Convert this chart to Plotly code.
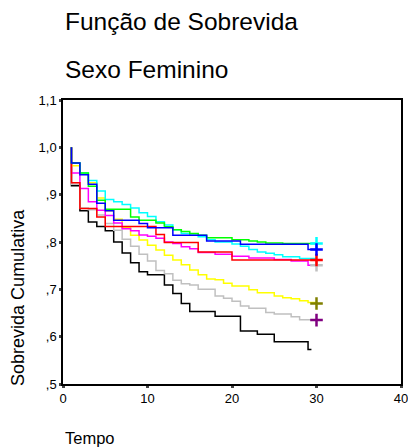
import plotly.graph_objects as go

# ---- data ----
times = list(range(1, 31))

black = [.919, .866, .842, .833, .824, .800, .777, .756, .737, .731,
         .731, .709, .691, .670, .653, .653, .653, .643, .643, .643,
         .612, .612, .605, .605, .589, .589, .589, .589, .573]
black_end = 29.4

gray = [.922, .872, .868, .857, .839, .825, .806, .791, .774, .760,
        .740, .733, .719, .712, .709, .700, .700, .686, .681, .675,
        .665, .660, .660, .651, .648, .648, .642, .636, .636, .635]

yellow = [.961, .943, .925, .893, .866, .848, .830, .814, .804, .793,
          .783, .772, .762, .752, .741, .731, .722, .720, .713, .707,
          .707, .699, .693, .693, .686, .682, .680, .676, .672, .670]

magenta = [.946, .913, .885, .867, .856, .840, .828, .824, .815, .812,
           .808, .800, .797, .790, .786, .778, .778, .774, .774, .770,
           .770, .766, .766, .766, .763, .763, .760, .760, .751, .751]

red = [.925, .871, .871, .853, .833, .833, .833, .833, .833, .833,
       .816, .799, .799, .799, .799, .779, .779, .779, .779, .762,
       .762, .762, .762, .762, .762, .762, .762, .762, .762, .762]

cyan = [.967, .946, .930, .908, .890, .885, .879, .872, .862, .854,
        .843, .836, .826, .818, .814, .811, .805, .800, .800, .796,
        .791, .784, .779, .776, .773, .769, .769, .765, .765, .765]

green = [.967, .946, .918, .888, .869, .869, .869, .853, .846, .846,
         .840, .832, .826, .822, .818, .814, .809, .809, .809, .805,
         .805, .802, .800, .798, .798, .797, .797, .797, .797, .797]

blue = [.967, .942, .922, .882, .866, .846, .846, .846, .839, .830,
        .830, .830, .814, .814, .814, .814, .802, .802, .802, .802,
        .795, .795, .795, .795, .795, .795, .795, .795, .784, .784]

y_tickvals = [0.5, 0.6, 0.7, 0.8, 0.9, 1.0, 1.1]
y_ticktext = [",5", ",6", ",7", ",8", ",9", "1,0", "1,1"]
x_tickvals = [0, 10, 20, 30, 40]

# (name, values, line colour, censor-marker colour, end time)
series = [
    ("black", black, "#000000", None, black_end),
    ("gray", gray, "#c0c0c0", "#800080", 30),
    ("yellow", yellow, "#ffff00", "#808000", 30),
    ("magenta", magenta, "#ff00ff", "#c0c0c0", 30),
    ("cyan", cyan, "#00ffff", None, 30),
    ("red", red, "#ff0000", "#ff0000", 30),
    ("green", green, "#00ff00", "#00ffff", 30),
    ("blue", blue, "#0000ff", "#0000ff", 30),
]

fig = go.Figure()
for name, vals, col, mcol, tend in series:
    xs = [times[0]] + times[:len(vals)] + [tend]
    ys = [1.0] + vals + [vals[-1]]
    fig.add_trace(go.Scatter(x=xs, y=ys, mode="lines", line=dict(color=col, width=1.5, shape="hv"),
                             showlegend=False, hoverinfo="skip"))
for name, vals, col, mcol, tend in series:
    if mcol:
        fig.add_trace(go.Scatter(x=[tend], y=[vals[-1]], mode="markers",
                                 marker=dict(symbol="cross-thin", size=9, line=dict(color=mcol, width=2.5)),
                                 showlegend=False, hoverinfo="skip"))

FONT = "Liberation Sans, Arial, sans-serif"
# page body has an 8px margin: figure is 408x440 placed at (8, 8) in the window
OFF = 8
W, H = 416 - OFF, 448 - OFF
PL, PR, PT, PB = 63, 408, 100, 384       # plot area in window pixels
def py(p):
    return (PB - p) / (PB - PT)
def px(p):
    return (p - PL) / (PR - PL)

fig.update_layout(
    width=W, height=H,
    margin=dict(l=PL - OFF, r=416 - PR, t=PT - OFF, b=448 - PB),
    paper_bgcolor="white", plot_bgcolor="white",
    font=dict(family=FONT, color="black", size=13),
    xaxis=dict(range=[0, 40], tickvals=x_tickvals, ticks="outside", ticklen=2, tickwidth=3,
               showline=True, linecolor="black", linewidth=1.5, mirror=True,
               showgrid=False, zeroline=False, tickfont=dict(size=13)),
    yaxis=dict(range=[0.5, 1.1], tickvals=y_tickvals, ticktext=y_ticktext, ticks="outside",
               ticklen=2, tickwidth=3, showline=True, linecolor="black", linewidth=1.5,
               mirror=True, showgrid=False, zeroline=False, tickfont=dict(size=13)),
    annotations=[
        dict(text="Função de Sobrevida", x=px(63), xref="paper", y=py(22), yref="paper",
             xanchor="left", yanchor="middle", showarrow=False, font=dict(size=24.5)),
        dict(text="Sexo Feminino", x=px(63), xref="paper", y=py(70), yref="paper",
             xanchor="left", yanchor="middle", showarrow=False, font=dict(size=24.5)),
        dict(text="Tempo", x=px(63), xref="paper", y=py(438), yref="paper",
             xanchor="left", yanchor="middle", showarrow=False, font=dict(size=16.5)),
        dict(text="Sobrevida Cumulativa", x=px(17), xref="paper", y=py(297), yref="paper",
             xanchor="center", yanchor="middle", textangle=-90, showarrow=False,
             font=dict(size=18)),
    ],
)

fig.write_html("out.html")
